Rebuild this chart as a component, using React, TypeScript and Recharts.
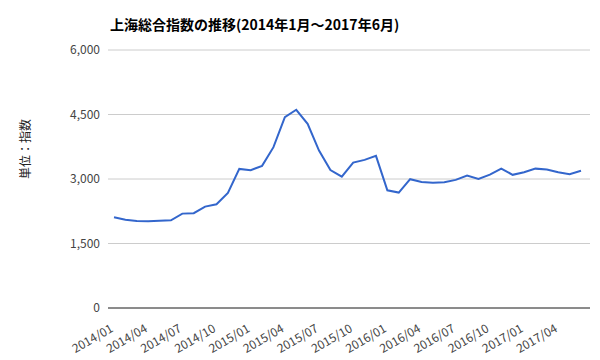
import {CartesianGrid, Line, LineChart, XAxis, YAxis} from 'recharts';

const months = [
    '2014/01', '2014/02', '2014/03', '2014/04', '2014/05', '2014/06',
    '2014/07', '2014/08', '2014/09', '2014/10', '2014/11', '2014/12',
    '2015/01', '2015/02', '2015/03', '2015/04', '2015/05', '2015/06',
    '2015/07', '2015/08', '2015/09', '2015/10', '2015/11', '2015/12',
    '2016/01', '2016/02', '2016/03', '2016/04', '2016/05', '2016/06',
    '2016/07', '2016/08', '2016/09', '2016/10', '2016/11', '2016/12',
    '2017/01', '2017/02', '2017/03', '2017/04', '2017/05', '2017/06',
];

const indexValues = [
    2110, 2050, 2025, 2018, 2030, 2040,
    2195, 2205, 2358, 2412, 2675, 3234,
    3205, 3305, 3740, 4440, 4610, 4285,
    3660, 3208, 3055, 3382, 3445, 3538,
    2737, 2685, 2995, 2932, 2915, 2925,
    2979, 3080, 3003, 3100, 3243, 3097,
    3157, 3241, 3220, 3155, 3112, 3190,
];

const yTicks = [0, 1500, 3000, 4500, 6000];

const data = months.map((month, i) => ({month, value: indexValues[i]}));

const MonthTick = ({x, y, payload}: any) => (
    <text
        x={x}
        y={y + 15}
        transform={`rotate(-30, ${x}, ${y + 15})`}
        textAnchor="end"
        fontSize={12}
        fill="#444"
    >
        {payload.value}
    </text>
);

export default function App() {
    return (
        <div style={{position: 'absolute', left: 0, top: 0, width: 600, height: 360, background: '#fff',
            fontFamily: '"Noto Sans CJK JP", "Noto Sans", sans-serif'}}>
            <div style={{position: 'absolute', left: 110, top: 14, fontSize: 14, fontWeight: 'bold', color: '#000'}}>
                上海総合指数の推移(2014年1月～2017年6月)
            </div>
            <LineChart width={600} height={360} data={data} margin={{top: 50, right: 10, bottom: 0, left: 0}}>
                <CartesianGrid vertical={false} stroke="#ccc"/>
                <XAxis
                    dataKey="month"
                    interval={2}
                    tick={<MonthTick/>}
                    tickLine={false}
                    axisLine={{stroke: '#333'}}
                    height={52}
                    padding={{left: 6, right: 9}}
                />
                <YAxis
                    domain={[0, 6000]}
                    ticks={yTicks}
                    tickFormatter={(v: number) => v.toLocaleString('en-US')}
                    tick={{fontSize: 12, fill: '#444'}}
                    tickLine={false}
                    axisLine={false}
                    width={108}
                    label={{value: '単位：指数', angle: -90, position: 'insideLeft', offset: 26, fontSize: 12, fill: '#222'}}
                />
                <Line
                    dataKey="value"
                    stroke="#3366cc"
                    strokeWidth={2}
                    dot={false}
                    isAnimationActive={false}
                />
            </LineChart>
        </div>
    );
}
